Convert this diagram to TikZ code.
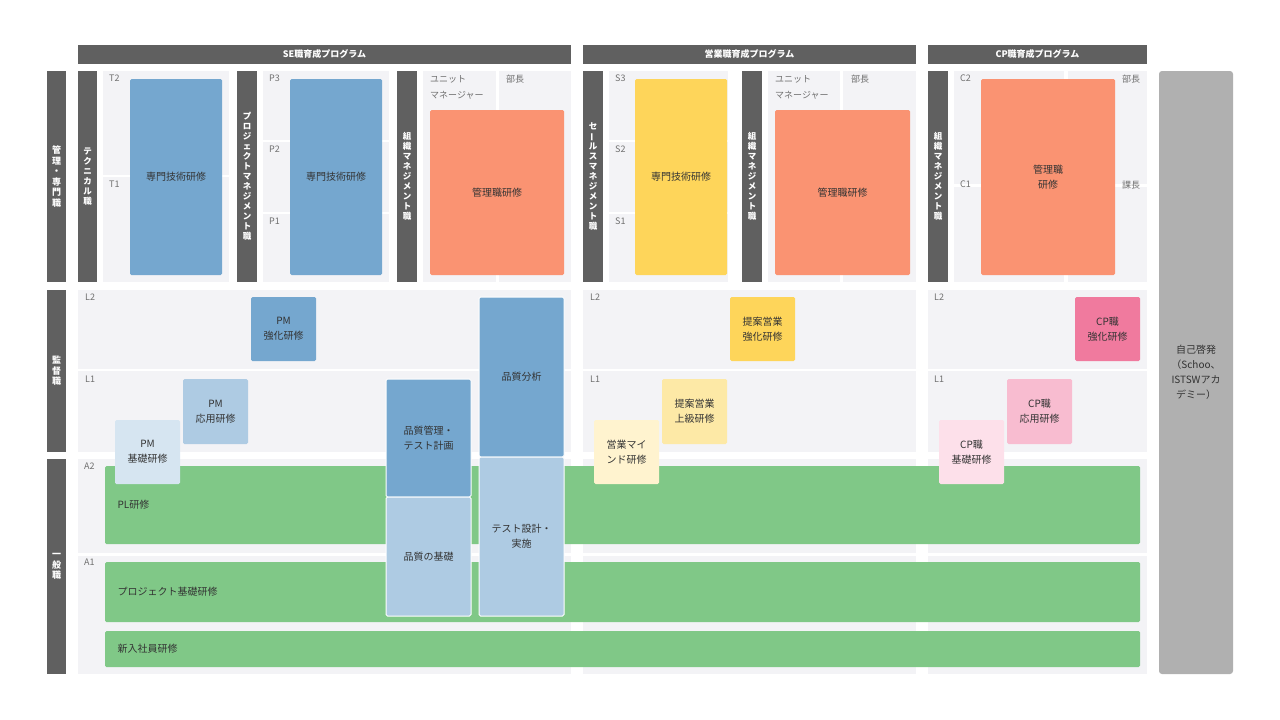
\documentclass[tikz,border=0pt]{standalone}
\usepackage{fontspec}
\usepackage{graphicx}
\setmainfont{Noto Sans CJK JP}
\definecolor{dk}{HTML}{606060}
\definecolor{bgc}{HTML}{F3F3F6}
\definecolor{bl}{HTML}{75A7CF}
\definecolor{bl2}{HTML}{AECBE3}
\definecolor{bl3}{HTML}{D6E5F1}
\definecolor{ye}{HTML}{FED55A}
\definecolor{ye2}{HTML}{FDE9A6}
\definecolor{ye3}{HTML}{FFF3CF}
\definecolor{og}{HTML}{FA9372}
\definecolor{pk}{HTML}{F07A9E}
\definecolor{pk2}{HTML}{F8BCD0}
\definecolor{pk3}{HTML}{FDE0EA}
\definecolor{gr}{HTML}{80C887}
\definecolor{sg}{HTML}{B0B0B0}
\definecolor{tx}{HTML}{333333}
\newcommand\bx[8][]{\node[inner sep=0pt,align=center,font=\fontsize{10}{15}\selectfont,text=tx,fill=#7,rounded corners=1.5pt,minimum width={(#5-#3)*1pt},minimum height={(#6-#4)*1pt},#1] (#2) at ({(#3+#5)/2},{(#4+#6)/2}) {#8};}
\newcommand\bg[5]{\fill[bgc] (#2,#3) rectangle (#4,#5);}
\newcommand\lb[3]{\node[anchor=north west,inner sep=0pt,font=\fontsize{9}{14}\selectfont,text=dk!90] (#1) at (#2) {#3};}
\newcommand\vb{\rotatebox[origin=c]{90}{ー}}
\tikzset{dark/.style={text=white,font=\bfseries\fontsize{9}{10.5}\selectfont}}
\begin{document}
\begin{tikzpicture}[x=1pt,y=-1pt]
\useasboundingbox (0,0) rectangle (1280,720);
\fill[white] (0,0) rectangle (1280,720);
% headers
\bx[dark,rounded corners=0pt]{h1}{78}{45}{571}{64}{dk}{SE職育成プログラム}
\bx[dark,rounded corners=0pt]{h2}{583}{45}{916}{64}{dk}{営業職育成プログラム}
\bx[dark,rounded corners=0pt]{h3}{928}{45}{1147}{64}{dk}{CP職育成プログラム}
% left labels
\bx[dark,rounded corners=0pt]{r1}{47}{71}{66}{282}{dk}{管\\理\\・\\専\\門\\職}
\bx[dark,rounded corners=0pt]{r2}{47}{290}{66}{452}{dk}{監\\督\\職}
\bx[dark,rounded corners=0pt]{r3}{47}{459}{66}{674}{dk}{一\\般\\職}
% upper backgrounds
\bg{}{103}{71}{229}{175}\bg{}{103}{177}{229}{282}
\bg{}{263}{71}{389}{140}\bg{}{263}{142}{389}{212}\bg{}{263}{214}{389}{282}
\bg{}{423}{71}{496}{282}\bg{}{499}{71}{571}{282}
\bg{}{609}{71}{728}{140}\bg{}{609}{142}{728}{212}\bg{}{609}{214}{728}{282}
\bg{}{768}{71}{840}{282}\bg{}{843}{71}{916}{282}
\bg{}{954}{71}{1064}{184}\bg{}{954}{187}{1064}{282}
\bg{}{1068}{71}{1147}{184}\bg{}{1068}{187}{1147}{282}
% vertical bars
\bx[dark,rounded corners=0pt,font=\bfseries\fontsize{8.5}{10}\selectfont]{v1}{78}{71}{97}{282}{dk}{テ\\ク\\ニ\\カ\\ル\\職}
\bx[dark,rounded corners=0pt,font=\bfseries\fontsize{8.5}{10}\selectfont]{v2}{237}{71}{257}{282}{dk}{プ\\ロ\\ジ\\ェ\\ク\\ト\\マ\\ネ\\ジ\\メ\\ン\\ト\\職}
\bx[dark,rounded corners=0pt,font=\bfseries\fontsize{8.5}{10}\selectfont]{v3}{397}{71}{417}{282}{dk}{組\\織\\マ\\ネ\\ジ\\メ\\ン\\ト\\職}
\bx[dark,rounded corners=0pt,font=\bfseries\fontsize{8.5}{10}\selectfont]{v4}{583}{71}{603}{282}{dk}{セ\\\vb\\ル\\ス\\マ\\ネ\\ジ\\メ\\ン\\ト\\職}
\bx[dark,rounded corners=0pt,font=\bfseries\fontsize{8.5}{10}\selectfont]{v5}{742}{71}{762}{282}{dk}{組\\織\\マ\\ネ\\ジ\\メ\\ン\\ト\\職}
\bx[dark,rounded corners=0pt,font=\bfseries\fontsize{8.5}{10}\selectfont]{v6}{928}{71}{948}{282}{dk}{組\\織\\マ\\ネ\\ジ\\メ\\ン\\ト\\職}
% small labels upper
\lb{t2}{109,75}{T2}\lb{t1}{109,181}{T1}
\lb{p3}{269,75}{P3}\lb{p2}{269,146}{P2}\lb{p1}{269,218}{P1}
\node[anchor=north west,inner sep=0pt,align=left,font=\fontsize{9}{16}\selectfont,text=dk!90] (u1) at (430,75) {ユニット\\マネージャー};
\lb{bc1}{506,75}{部長}
\lb{s3}{615,75}{S3}\lb{s2}{615,146}{S2}\lb{s1}{615,218}{S1}
\node[anchor=north west,inner sep=0pt,align=left,font=\fontsize{9}{16}\selectfont,text=dk!90] (u2) at (775,75) {ユニット\\マネージャー};
\lb{bc2}{851,75}{部長}
\lb{c2}{960,75}{C2}\lb{c1}{960,181}{C1}
\lb{bc3}{1122,75}{部長}\lb{kc}{1122,181}{課長}
% upper boxes
\bx{k1}{130}{79}{222}{275}{bl}{専門技術研修}
\bx{k2}{290}{79}{382}{275}{bl}{専門技術研修}
\bx{k3}{430}{110}{564}{275}{og}{管理職研修}
\bx{k4}{635}{79}{727}{275}{ye}{専門技術研修}
\bx{k5}{775}{110}{910}{275}{og}{管理職研修}
\bx{k6}{981}{79}{1115}{275}{og}{管理職\\研修}
% right bar
\bx[rounded corners=3pt]{self}{1159}{71}{1233}{674}{sg}{自己啓発\\（Schoo、\\ISTSWアカ\\デミー）}
% middle and lower backgrounds
\bg{}{78}{290}{571}{369}\bg{}{78}{371}{571}{452}
\bg{}{583}{290}{916}{369}\bg{}{583}{371}{916}{452}
\bg{}{928}{290}{1147}{369}\bg{}{928}{371}{1147}{452}
\bg{}{78}{459}{571}{553}\bg{}{583}{459}{916}{553}\bg{}{928}{459}{1147}{553}
\bg{}{78}{556}{571}{674}\bg{}{583}{556}{916}{674}\bg{}{928}{556}{1147}{674}
\lb{l2a}{85,294}{L2}\lb{l1a}{85,376}{L1}
\lb{l2b}{590,294}{L2}\lb{l1b}{590,376}{L1}
\lb{l2c}{934,294}{L2}\lb{l1c}{934,376}{L1}
\lb{a2}{84,463}{A2}\lb{a1}{84,559}{A1}
% green bars
\bx[text width=1010pt,align=left]{g1}{105}{466}{1140}{544}{gr}{PL研修}
\bx[text width=1010pt,align=left]{g2}{105}{562}{1140}{622}{gr}{プロジェクト基礎研修}
\bx[text width=1010pt,align=left]{g3}{105}{631}{1140}{667}{gr}{新入社員研修}
% middle boxes
\bx{m1}{251}{297}{316}{361}{bl}{PM\\強化研修}
\bx{m2}{183}{379}{248}{444}{bl2}{PM\\応用研修}
\bx{m3}{115}{420}{180}{484}{bl3}{PM\\基礎研修}
\bx[draw=white,line width=1pt]{q1}{386}{379}{471}{497}{bl}{品質管理・\\テスト計画}
\bx[draw=white,line width=1pt]{q2}{386}{497}{471}{616}{bl2}{品質の基礎}
\bx[draw=white,line width=1pt]{q3}{479}{297}{564}{457}{bl}{品質分析}
\bx[draw=white,line width=1pt]{q4}{479}{457}{564}{616}{bl2}{テスト設計・\\実施}
\bx{e1}{730}{297}{795}{361}{ye}{提案営業\\強化研修}
\bx{e2}{662}{379}{727}{444}{ye2}{提案営業\\上級研修}
\bx{e3}{594}{420}{659}{484}{ye3}{営業マイ\\ンド研修}
\bx{c1b}{1075}{297}{1140}{361}{pk}{CP職\\強化研修}
\bx{c2b}{1007}{379}{1072}{444}{pk2}{CP職\\応用研修}
\bx{c3b}{939}{420}{1004}{484}{pk3}{CP職\\基礎研修}
\end{tikzpicture}
\end{document}
